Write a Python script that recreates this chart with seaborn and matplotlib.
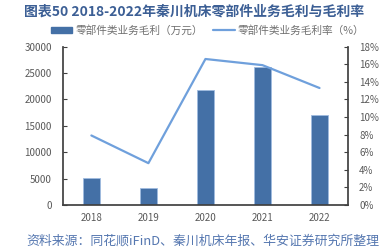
import matplotlib
matplotlib.use("Agg")
import matplotlib.pyplot as plt
import seaborn as sns
import pandas as pd
from matplotlib.ticker import FuncFormatter, MultipleLocator
from matplotlib.lines import Line2D
from matplotlib.patches import Patch

years = ["2018", "2019", "2020", "2021", "2022"]
gross_profit = [5170, 3220, 21800, 26150, 17110]
gross_margin = [7.9, 4.75, 16.6, 15.9, 13.3]

title = "图表50 2018-2022年秦川机床零部件业务毛利与毛利率"
bar_label = "零部件类业务毛利（万元）"
line_label = "零部件类业务毛利率（%）"
source = "资料来源：同花顺iFinD、秦川机床年报、华安证券研究所整理"

sns.set_theme(style="white")
plt.rcParams['font.family'] = ['Noto Sans CJK SC', 'DejaVu Sans']

df = pd.DataFrame({"year": years, "profit": gross_profit, "margin": gross_margin})

fig = plt.figure(figsize=(3.88, 2.49), dpi=100)
ax = fig.add_axes([0.162, 0.177, 0.735, 0.6355])

bar_color = "#4470a6"
line_color = "#6fa0dc"
gray = "#595959"

sns.barplot(data=df, x="year", y="profit", ax=ax, color=bar_color, width=0.31,
            edgecolor="#9fbbe0", linewidth=0.6, saturation=1)
ax.set_ylim(0, 30000)
ax.set_xlim(-0.5, 4.5)
ax.yaxis.set_major_locator(MultipleLocator(5000))
ax.set_xlabel("")
ax.set_ylabel("")

ax2 = ax.twinx()
sns.lineplot(x=list(range(len(years))), y=gross_margin, ax=ax2, color=line_color, linewidth=1.6)
ax2.set_ylim(0, 18)
ax2.yaxis.set_major_locator(MultipleLocator(2))
ax2.yaxis.set_major_formatter(FuncFormatter(lambda v, p: f"{int(round(v))}%"))
ax2.set_xlim(-0.5, 4.5)

for a in (ax, ax2):
    a.spines["top"].set_visible(False)
    a.tick_params(labelsize=7, colors=gray, length=3, width=0.8, direction="in", pad=8)
ax.spines["right"].set_visible(False)
ax2.spines["left"].set_visible(False)
ax2.spines["bottom"].set_visible(False)
ax.spines["left"].set_color("#404040")
ax.spines["bottom"].set_color("#404040")
ax2.spines["right"].set_color("#404040")
ax.tick_params(axis="x", length=0, pad=6)
ax.set_xticks([0.5, 1.5, 2.5, 3.5], minor=True)
ax.tick_params(axis="x", which="minor", length=3, width=0.8, direction="in", color="#404040")
ax.tick_params(axis="y", color="#404040")
ax2.tick_params(axis="y", color="#404040")
for a in (ax, ax2):
    for lab in a.get_yticklabels() + a.get_xticklabels():
        lab.set_color(gray)

fig.text(0.5, 0.955, title, ha="center", va="center", fontsize=10, fontweight="bold", color="#3c5f95")

handles = [Patch(facecolor=bar_color, edgecolor=bar_color), Line2D([0], [0], color=line_color, lw=1.6)]
fig.legend(handles, [bar_label, line_label], loc="center", bbox_to_anchor=(0.535, 0.878), ncol=2,
           frameon=False, fontsize=7.7, labelcolor="#707070", handlelength=2.0, handleheight=0.45,
           columnspacing=1.0, handletextpad=0.3)

fig.text(0.068, 0.03, source, ha="left", va="center", fontsize=9.3, fontweight="light", color="#5577b0")

fig.savefig("out.png", dpi=100)
